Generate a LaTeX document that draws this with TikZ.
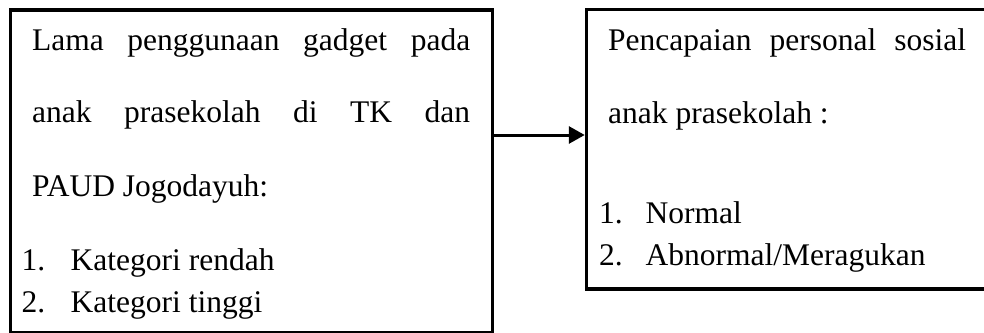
\documentclass[tikz,border=0pt]{standalone}
\usepackage{fontspec}
\setmainfont{Liberation Serif}
\usetikzlibrary{arrows.meta}
\tikzset{
  boxframe/.style={draw=black, line width=3.5pt, fill=none, inner sep=0pt},
  txt/.style={anchor=base west, inner sep=0pt, font=\fontsize{31.5}{36}\selectfont},
  conn/.style={line width=3pt, -{Triangle[length=16pt,width=17pt]}},
}
\begin{document}
\begin{tikzpicture}[x=1pt,y=-1pt]
\useasboundingbox (0,0) rectangle (984,332);
\clip (0,0) rectangle (984,332);
\fill[white] (0,0) rectangle (984,332);
% boxes
\node[boxframe, minimum width=482pt, minimum height=322.5pt] (L) at (251.5,171.25) {};
\node[boxframe, minimum width=415pt, minimum height=279.5pt] (R) at (794,149.25) {};
% left texts
\node[txt] (l1) at (32,50) {\makebox[438pt][s]{Lama penggunaan gadget pada}};
\node[txt] (l2) at (32,122.5) {\makebox[438pt][s]{anak prasekolah di TK dan}};
\node[txt] (l3) at (32,196) {PAUD Jogodayuh:};
\node[txt] (ln1) at (21.5,270) {1.};
\node[txt] (li1) at (70.5,270) {Kategori rendah};
\node[txt] (ln2) at (21.5,312) {2.};
\node[txt] (li2) at (70.5,312) {Kategori tinggi};
% right texts
\node[txt] (r1) at (608,50) {\makebox[358pt][s]{Pencapaian personal sosial}};
\node[txt] (r2) at (608,123) {anak prasekolah :};
\node[txt] (rn1) at (599,223) {1.};
\node[txt] (ri1) at (645.5,223) {Normal};
\node[txt] (rn2) at (599,265) {2.};
\node[txt] (ri2) at (645.5,265) {Abnormal/Meragukan};
% connector
\coordinate (ay) at (0,135);
\draw[conn] (L.east |- ay) -- (R.west |- ay);
\end{tikzpicture}
\end{document}
